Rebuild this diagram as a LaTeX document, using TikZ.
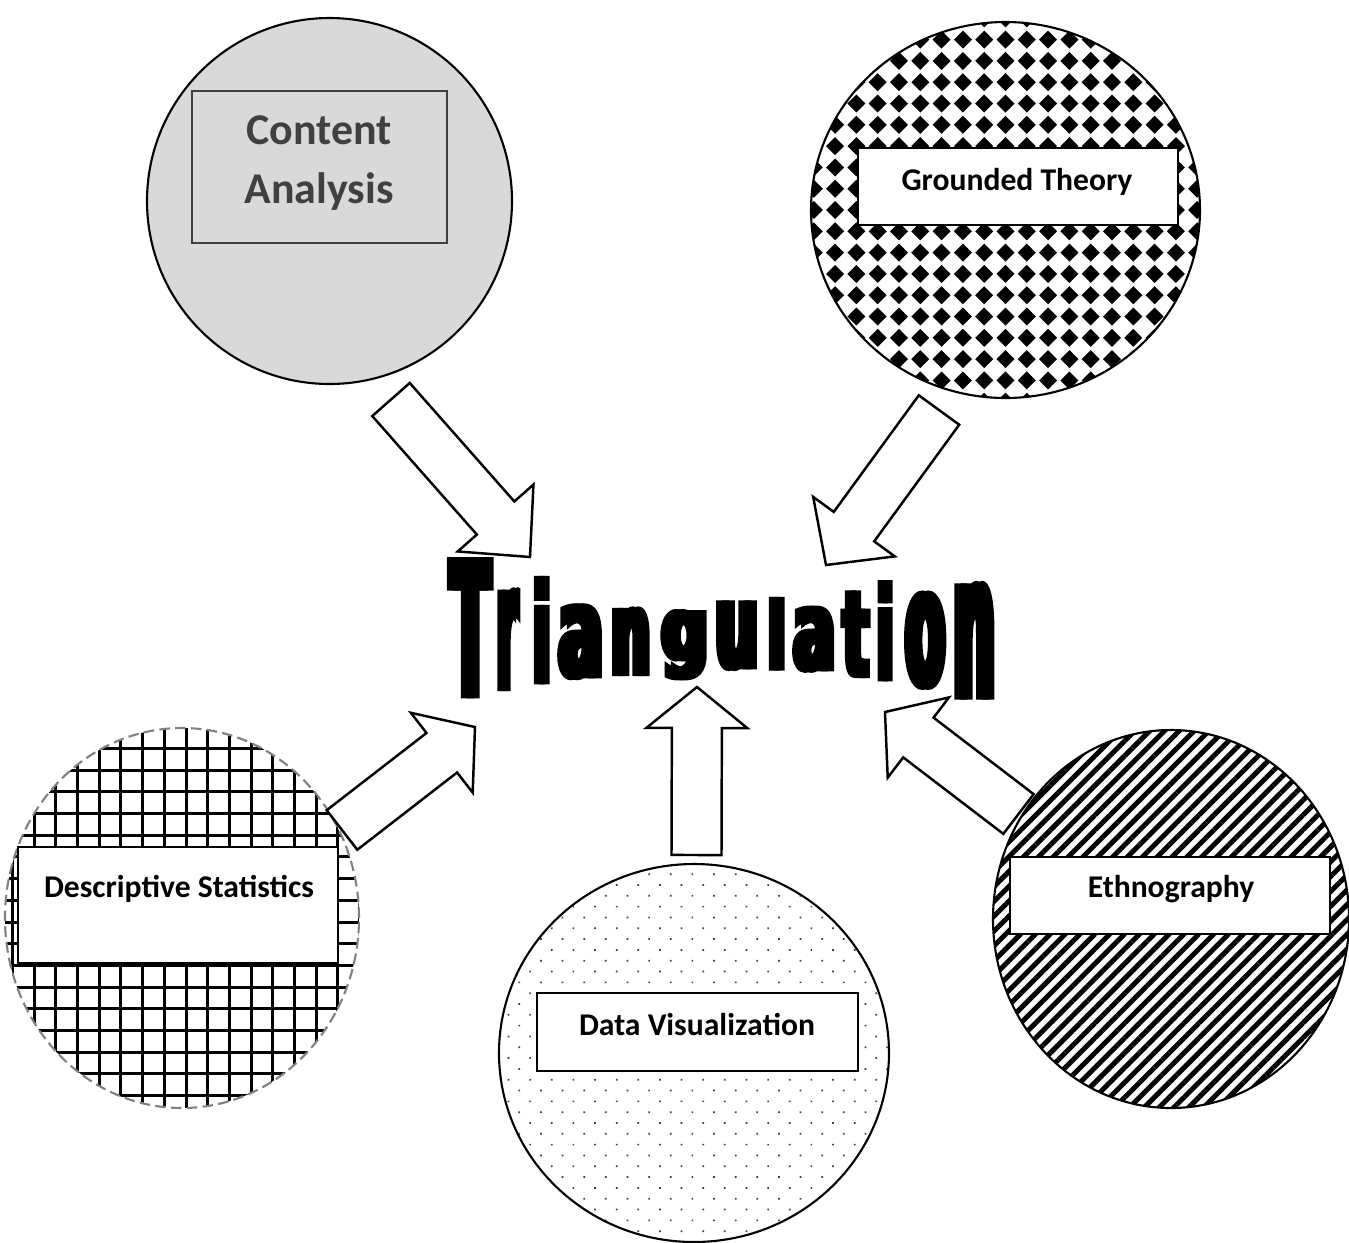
\documentclass[tikz,border=0pt]{standalone}
\usepackage{fontspec}
\setmainfont{Carlito}
\newfontfamily\wordartfont{DejaVu Sans}[BoldFeatures={FakeBold=4}]
\usepackage{graphicx}
\usetikzlibrary{shapes.geometric,patterns.meta,calc}
\definecolor{textgray}{HTML}{404040}

% block arrow from a tail point to a tip point
\newcommand{\blockarrow}[4]{%
  \coordinate (#1-s) at ($(#3)!#4!(#2)$);
  \filldraw[arrowshape] ($(#2)!2.5mm!90:(#3)$) -- ($(#1-s)!2.5mm!-90:(#2)$) -- ($(#1-s)!5.05mm!-90:(#2)$)
    -- (#3) -- ($(#1-s)!5.05mm!90:(#2)$) -- ($(#1-s)!2.5mm!90:(#2)$) -- ($(#2)!2.5mm!-90:(#3)$) -- cycle;
}
% heavy letter: the glyph set twice, side by side
\newcommand{\heavyletter}[1]{\rlap{#1}\kern0.1em#1}

\begin{document}
\begin{tikzpicture}[x=0.1mm,y=-0.1mm,
  method/.style={ellipse,draw,line width=0.6pt,inner sep=0pt},
  labelbox/.style={rectangle,draw,fill=white,line width=0.6pt,minimum width=32mm},
  labeltext/.style={font=\fontsize{9}{11}\selectfont\bfseries,anchor=base},
  arrowshape/.style={fill=white,draw,line width=0.7pt,line join=miter}]
\useasboundingbox (0,0) rectangle (1349,1242);

% Content Analysis
\node[method,fill=gray!30,minimum width=36.5mm,minimum height=36.6mm] (ca) at (329.5,201) {};
\node[rectangle,draw=textgray,fill=gray!30,line width=0.8pt,minimum width=25.5mm,minimum height=15.2mm] (cabox) at (319.5,167) {};
\node[align=center,text=textgray,font=\fontsize{12.5}{17}\selectfont\bfseries] (catext) at (319,163) {Content\\Analysis};

% Grounded Theory
\node[method,minimum width=38.9mm,minimum height=37.6mm,
  path picture={
    \foreach \i in {-10,...,10}
      \foreach \j in {-10,...,10}
        \fill[shift={(path picture bounding box.center)}] ({21.3*\i},{21.3*\j}) +(-9,0) -- +(0,9) -- +(9,0) -- +(0,-9) -- cycle;
  }] (gt) at (1005.5,210) {};
\node[labelbox,minimum height=7.7mm] (gtbox) at (1018,186.5) {};
\node[labeltext] (gttext) at (1017,190) {Grounded Theory};

% Descriptive Statistics
\node[method,draw=gray,dash pattern=on 3pt off 1.5pt,minimum width=35.4mm,minimum height=38mm,
  path picture={
    \foreach \i in {-9,...,9}{
      \draw[solid,black,line width=0.3mm,shift={(path picture bounding box.center)}] ({21.7*\i+4},-200) -- ({21.7*\i+4},200);
      \draw[solid,black,line width=0.3mm,shift={(path picture bounding box.center)}] (-200,{21.7*\i+4}) -- (200,{21.7*\i+4});
    }
  }] (ds) at (182,918) {};
\node[labelbox,minimum height=11.6mm] (dsbox) at (178,905) {};
\node[labeltext] (dstext) at (179,897) {Descriptive Statistics};

% Data Visualization
\node[method,minimum width=39mm,minimum height=37.8mm,
  pattern={Dots[distance=1.53mm,angle=45,radius=0.12mm]},pattern color=black!75] (dv) at (694,1053) {};
\node[labelbox,minimum height=7.8mm,minimum width=32.1mm] (dvbox) at (697.5,1032) {};
\node[labeltext] (dvtext) at (697,1035) {Data Visualization};

% Ethnography
\node[method,minimum width=35.6mm,minimum height=37.8mm,
  pattern={Lines[angle=45,distance=1.05mm,line width=0.5mm]}] (et) at (1171,919) {};
\node[labelbox,minimum height=7.7mm] (etbox) at (1170,895.5) {};
\node[labeltext] (ettext) at (1171,897) {Ethnography};

% Triangulation
\foreach \ch/\xl/\xr/\yt/\yb [count=\k] in {T/447/492/560/694, r/494/519/590/687, i/530/552/578/681,
    a/555/605/605/677, n/608/652/608/673, g/658/710/610/678, u/712/760/602/668, l/765/787/598/668,
    a/790/837/607/670, t/840/870/592/675, i/874/895/582/678, o/902/947/593/686, n/950/997/584/695}{
  \pgfmathsetmacro{\lw}{(\xr-\xl)/10}
  \pgfmathsetmacro{\lh}{(\yb-\yt)/10}
  \node[inner sep=0pt,anchor=north west] (tri-\k) at (\xl,\yt) {\resizebox*{\lw mm}{\lh mm}{\wordartfont\bfseries\heavyletter{\ch}}};
}

% arrows
\coordinate (ca-tail) at (391,399.5);
\coordinate (ca-tip) at (530,557);
\blockarrow{caarrow}{ca-tail}{ca-tip}{5.2mm}
\coordinate (gt-tail) at (939,410);
\coordinate (gt-tip) at (826,565);
\blockarrow{gtarrow}{gt-tail}{gt-tip}{4.75mm}
\coordinate (ds-tail) at (342,830);
\coordinate (ds-tip) at (475,727);
\blockarrow{dsarrow}{ds-tail}{ds-tip}{4.2mm}
\coordinate (dv-tail) at (696.5,855);
\coordinate (dv-tip) at (697,687);
\blockarrow{dvarrow}{dv-tail}{dv-tip}{4.1mm}
\coordinate (et-tail) at (1018.5,814);
\coordinate (et-tip) at (885,712);
\blockarrow{etarrow}{et-tail}{et-tip}{4.2mm}
\end{tikzpicture}
\end{document}
